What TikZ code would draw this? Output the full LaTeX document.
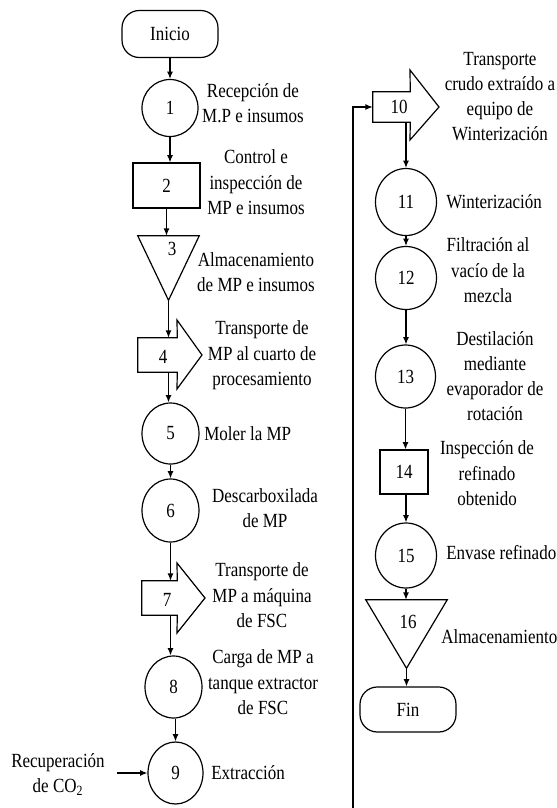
\documentclass[tikz,border=0pt]{standalone}
\usepackage{fontspec}
\setmainfont{Liberation Serif}
\usetikzlibrary{arrows.meta,shapes.geometric}
\def\px{0.75pt}
\newcommand{\vs}[1]{\scalebox{1}[1.18]{#1}}
\newcommand{\ml}[1]{\scalebox{1}[1.18]{\begin{tabular}{@{}c@{}}#1\end{tabular}}}
\begin{document}
\begin{tikzpicture}[x=0.75pt,y=-0.75pt,
  every node/.style={font=\fontsize{12.75}{15.9}\selectfont, inner sep=0pt},
  shp/.style={draw, line width=0.9pt},
  circ/.style={shp, ellipse, minimum width=57*\px, minimum height=61*\px},
  rcirc/.style={shp, ellipse, minimum width=61*\px, minimum height=65*\px},
  box/.style={shp, rectangle},
  term/.style={shp, rectangle, rounded corners=13pt, minimum width=96*\px, minimum height=47*\px},
  hold/.style={rectangle},
  lbl/.style={align=center},
  arr/.style={line width=0.9pt, -{Latex[length=5.5pt,width=4.5pt]}},
  outline/.style={line width=0.9pt, line join=miter}
]
\useasboundingbox (0,0) rectangle (557,808);

% ---------- left column ----------
\node[term] (ini) at (170,34) {\vs{Inicio}};
\node[circ, minimum width=56*\px, minimum height=57*\px] (c1) at (170,108) {\vs{1}};
\node[box, minimum width=67*\px, minimum height=45*\px] (b2) at (166.5,185.5) {\vs{2}};

\node[hold, minimum width=61*\px, minimum height=64*\px] (t3) at (168.5,268) {};
\draw[outline] (t3.north west) -- (t3.north east) -- (t3.south) -- cycle;
\node (n3) at (172,249) {\vs{3}};

\node[hold, minimum width=39*\px, minimum height=34*\px] (b4) at (157.5,355) {};
\draw[outline] (b4.north west) -- (b4.north east) -- (177,320) -- (202,355) -- (177,389) -- (b4.south east) -- (b4.south west) -- cycle;
\node (n4) at (163,357) {\vs{4}};

\node[circ] (c5) at (170.5,433.5) {\vs{5}};
\node[circ, minimum height=63*\px] (c6) at (170.5,510.5) {\vs{6}};

\node[hold, minimum width=35*\px, minimum height=34*\px] (b7) at (159.5,598) {};
\draw[outline] (b7.north west) -- (b7.north east) -- (177,563) -- (205,598) -- (177,633) -- (b7.south east) -- (b7.south west) -- cycle;
\node (n7) at (167,600) {\vs{7}};

\node[circ, minimum height=62*\px] (c8) at (173.5,687) {\vs{8}};
\node[circ, minimum width=55*\px, minimum height=62*\px] (c9) at (175.5,773) {\vs{9}};

% left labels
\node[lbl] (l1) at (253,105) {\ml{Recepción de\\M.P e insumos}};
\node[lbl] (l2) at (256,184) {\ml{Control e\\inspección de\\MP e insumos}};
\node[lbl] (l3) at (256,274) {\ml{Almacenamiento\\de MP e insumos}};
\node[lbl] (l4) at (262,355) {\ml{Transporte de\\MP al cuarto de\\procesamiento}};
\node[anchor=west] (l5) at (204,434) {\vs{Moler la MP}};
\node[lbl] (l6) at (265,510) {\ml{Descarboxilada\\de MP}};
\node[lbl] (l7) at (262,597) {\ml{Transporte de\\MP a máquina\\de FSC}};
\node[lbl] (l8) at (263,684) {\ml{Carga de MP a\\tanque extractor\\de FSC}};
\node[anchor=west] (l9) at (211,773) {\vs{Extracción}};
\node[lbl] (rec) at (58,775) {\ml{Recuperación\\de CO\textsubscript{2}}};
\coordinate (rin) at (117,773);

% left connectors
\draw[arr] (ini.south) -- (c1.north);
\draw[arr] (c1.south) -- (c1.south |- b2.north);
\draw[arr] (b2.south) -- (b2.south |- t3.north);
\draw[arr] (t3.south) -- (t3.south |- b4.north);
\draw[arr] (t3.south |- b4.south) -- (t3.south |- c5.north);
\draw[arr] (c5.south) -- (c6.north);
\draw[arr] (c6.south) -- (c6.south |- b7.north);
\draw[arr] (c6.south |- b7.south) -- (c6.south |- c8.north);
\draw[arr] (c9.north |- c8.south) -- (c9.north);
\draw[arr] (rin) -- (c9.west);

% ---------- right column ----------
\node[hold, minimum width=37*\px, minimum height=30*\px] (b10) at (391.5,107) {};
\draw[outline] (b10.north west) -- (b10.north east) -- (410,70) -- (439,107) -- (410,140) -- (b10.south east) -- (b10.south west) -- cycle;
\node (n10) at (399,107) {\vs{10}};

\node[rcirc, minimum height=67*\px] (c11) at (406,202) {\vs{11}};
\node[rcirc, minimum height=63*\px] (c12) at (406,278) {\vs{12}};
\node[rcirc, minimum width=60*\px, minimum height=63*\px] (c13) at (405.5,376.5) {\vs{13}};
\node[box, minimum width=48*\px, minimum height=44*\px] (b14) at (404,472) {\vs{14}};
\node[rcirc] (c15) at (406,555.5) {\vs{15}};

\node[hold, minimum width=81*\px, minimum height=68*\px] (t16) at (406.5,634) {};
\draw[outline] (t16.north west) -- (t16.north east) -- (t16.south) -- cycle;
\node (n16) at (408,622) {\vs{16}};

\node[term, minimum height=45*\px] (fin) at (408,709.5) {\vs{Fin}};

% right labels
\node[lbl] (l10) at (500,98) {\ml{Transporte\\crudo extraído a\\equipo de\\Winterización}};
\node[anchor=west] (l11) at (446,202) {\vs{Winterización}};
\node[lbl] (l12) at (488,272) {\ml{Filtración al\\vacío de la\\mezcla}};
\node[lbl] (l13) at (495,378) {\ml{Destilación\\mediante\\evaporador de\\rotación}};
\node[lbl] (l14) at (487,475) {\ml{Inspección de\\refinado\\obtenido}};
\node[anchor=west] (l15) at (446,553) {\vs{Envase refinado}};
\node[anchor=west] (l16) at (441,637) {\vs{Almacenamiento}};

% right connectors
\coordinate (feed) at (353,810);
\draw[arr] (feed) |- (b10.west);
\draw[arr] (c11.north |- b10.south) -- (c11.north);
\draw[arr] (c11.south) -- (c12.north);
\draw[arr] (c12.south) -- (c12.south |- c13.north);
\draw[arr] (c13.south) -- (c13.south |- b14.north);
\draw[arr] (c15.north |- b14.south) -- (c15.north);
\draw[arr] (c15.south) -- (c15.south |- t16.north);
\draw[arr] (t16.south) -- (t16.south |- fin.north);
\end{tikzpicture}
\end{document}
